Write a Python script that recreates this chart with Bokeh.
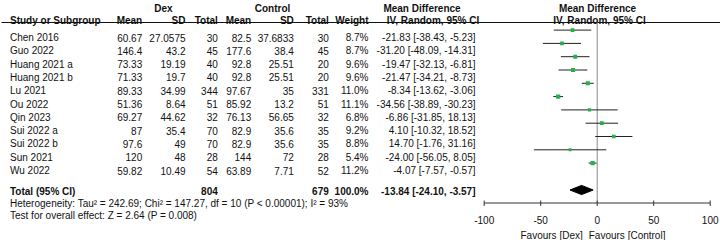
from bokeh.plotting import figure
from bokeh.models import Range1d, ColumnDataSource
from bokeh.core.properties import value
from bokeh.embed import file_html
from bokeh.resources import INLINE

# ---- data ----
studies = ["Chen 2016", "Guo 2022", "Huang 2021 a", "Huang 2021 b", "Lu 2021", "Ou 2022",
           "Qin 2023", "Sui 2022 a", "Sui 2022 b", "Sun 2021", "Wu 2022"]
dex_mean = ["60.67", "146.4", "73.33", "71.33", "89.33", "51.36", "69.27", "87", "97.6", "120", "59.82"]
dex_sd = ["27.0575", "43.2", "19.19", "19.7", "34.99", "8.64", "44.62", "35.4", "49", "48", "10.49"]
dex_n = [30, 45, 40, 40, 344, 51, 32, 70, 70, 28, 54]
ctl_mean = ["82.5", "177.6", "92.8", "92.8", "97.67", "85.92", "76.13", "82.9", "82.9", "144", "63.89"]
ctl_sd = ["37.6833", "38.4", "25.51", "25.51", "35", "13.2", "56.65", "35.6", "35.6", "72", "7.71"]
ctl_n = [30, 45, 20, 20, 331, 51, 32, 35, 35, 28, 52]
weight = [8.7, 8.7, 9.6, 9.6, 11.0, 11.1, 6.8, 9.2, 8.8, 5.4, 11.2]
md = [-21.83, -31.20, -19.47, -21.47, -8.34, -34.56, -6.86, 4.10, 14.70, -24.00, -4.07]
md_lo = [-38.43, -48.09, -32.13, -34.21, -13.62, -38.89, -31.85, -10.32, -1.76, -56.05, -7.57]
md_hi = [-5.23, -14.31, -6.81, -8.73, -3.06, -30.23, 18.13, 18.52, 31.16, 8.05, -0.57]
total_dex_n = 804
total_ctl_n = 679
total_weight = 100.0
total_md, total_lo, total_hi = -13.84, -24.10, -3.57
heterogeneity = "Heterogeneity: Tau\u00b2 = 242.69; Chi\u00b2 = 147.27, df = 10 (P < 0.00001); I\u00b2 = 93%"
overall = "Test for overall effect: Z = 2.64 (P = 0.008)"
axis_ticks = [-100, -50, 0, 50, 100]
axis_labels = ["-100", "-50", "0", "50", "100"]

# ---- layout constants (pixels) ----
W, H = 720, 240
ZERO_PX = 596.7
PX_PER_UNIT = 1.13
FONT = value("Liberation Sans")
FS = "10px"

p = figure(width=W, height=H, output_backend="svg", toolbar_location=None,
           x_range=Range1d(0, W), y_range=Range1d(H, 0), min_border=0,
           background_fill_color="white", border_fill_color="white")
p.extra_x_ranges = {"md": Range1d(-ZERO_PX / PX_PER_UNIT, (W - ZERO_PX) / PX_PER_UNIT)}
p.xaxis.visible = False
p.yaxis.visible = False
p.grid.visible = False
p.outline_line_color = None

n = len(studies)
row_base = [37.0 + 13.3 * i for i in range(n)]
marker_y = [29.6 + 13.3 * i for i in range(n)]
LX = 9.5


def txt(x, y, t, align="left", bold=False, **kw):
    p.text(x=x, y=y, text=t, text_align=align, text_baseline="alphabetic",
           text_font=FONT, text_font_size=FS, text_color="#111111",
           text_font_style="bold" if bold else "normal", **kw)


# header row 1
txt([163], [7.5], ["Dex"], "center", True)
txt([272], [7.5], ["Control"], "center", True)
txt([421.5], [7.5], ["Mean Difference"], "center", True)
txt([597], [7.5], ["Mean Difference"], "center", True)
# header row 2
txt([LX], [20.3], ["Study or Subgroup"], "left", True)
hdr_x = [141.7, 185, 217.3, 250.7, 293.3, 328.3, 368]
hdr_t = ["Mean", "SD", "Total", "Mean", "SD", "Total", "Weight"]
txt(hdr_x, [20.3] * len(hdr_x), hdr_t, "right", True)
txt([432.5], [20.3], ["IV, Random, 95% CI"], "center", True)
txt([599], [20.3], ["IV, Random, 95% CI"], "center", True)
p.line([1, W], [22, 22], line_color="#111111", line_width=1.2)

# study rows
txt([LX] * n, row_base, studies, "left")
txt([141.7] * n, row_base, dex_mean, "right")
txt([185] * n, row_base, dex_sd, "right")
txt([217.3] * n, row_base, [str(v) for v in dex_n], "right")
txt([250.7] * n, row_base, ctl_mean, "right")
txt([293.3] * n, row_base, ctl_sd, "right")
txt([328.3] * n, row_base, [str(v) for v in ctl_n], "right")
txt([368] * n, row_base, [f"{w:.1f}%" for w in weight], "right")
txt([475] * n, row_base,
    [f"{m:.2f} [{l:.2f}, {h:.2f}]" for m, l, h in zip(md, md_lo, md_hi)], "right")

# total rows
tb = 190.5
txt([LX], [tb], ["Total (95% CI)"], "left", True)
txt([217.3], [tb], [str(total_dex_n)], "right", True)
txt([328.3], [tb], [str(total_ctl_n)], "right", True)
txt([368], [tb], [f"{total_weight:.1f}%"], "right", True)
txt([475], [tb], [f"{total_md:.2f} [{total_lo:.2f}, {total_hi:.2f}]"], "right", True)
txt([LX], [203], [heterogeneity], "left")
txt([LX], [214.5], [overall], "left")

# forest: zero line
p.segment(x0=[0], y0=[22], x1=[0], y1=[202.5], line_color="#8a8a8a", line_width=1,
          x_range_name="md")
# CI lines
src = ColumnDataSource(dict(md=md, lo=md_lo, hi=md_hi, y=marker_y,
                            size=[1.25 * w ** 0.5 for w in weight]))
p.segment(x0="lo", y0="y", x1="hi", y1="y", source=src, line_color="#222222",
          line_width=1, x_range_name="md")
p.scatter(x="md", y="y", size="size", marker="square", source=src,
          fill_color="#22b14c", line_color=None, x_range_name="md")
# diamond
dy = 189.5
p.patch([total_lo, total_md, total_hi, total_md], [dy, dy - 4.6, dy, dy + 4.6],
        fill_color="black", line_color="black", x_range_name="md")

# axis
ay = 202.5
p.line([axis_ticks[0], axis_ticks[-1]], [ay, ay], line_color="#333333", line_width=1,
       x_range_name="md")
p.segment(x0=axis_ticks, y0=[ay - 2.5] * len(axis_ticks), x1=axis_ticks,
          y1=[ay + 3] * len(axis_ticks), line_color="#333333", line_width=1,
          x_range_name="md")
p.text(x=axis_ticks, y=[219.8] * len(axis_ticks), text=axis_labels, text_align="center",
       text_baseline="alphabetic", text_font=FONT, text_font_size=FS,
       text_color="#111111", x_range_name="md")
p.text(x=[-12.8], y=[235], text=["Favours [Dex]"], text_align="right",
       text_baseline="alphabetic", text_font=FONT, text_font_size=FS,
       text_color="#111111", x_range_name="md")
p.text(x=[-7.5], y=[235], text=["Favours [Control]"], text_align="left",
       text_baseline="alphabetic", text_font=FONT, text_font_size=FS,
       text_color="#111111", x_range_name="md")

open("out.html", "w").write(file_html(p, INLINE))
